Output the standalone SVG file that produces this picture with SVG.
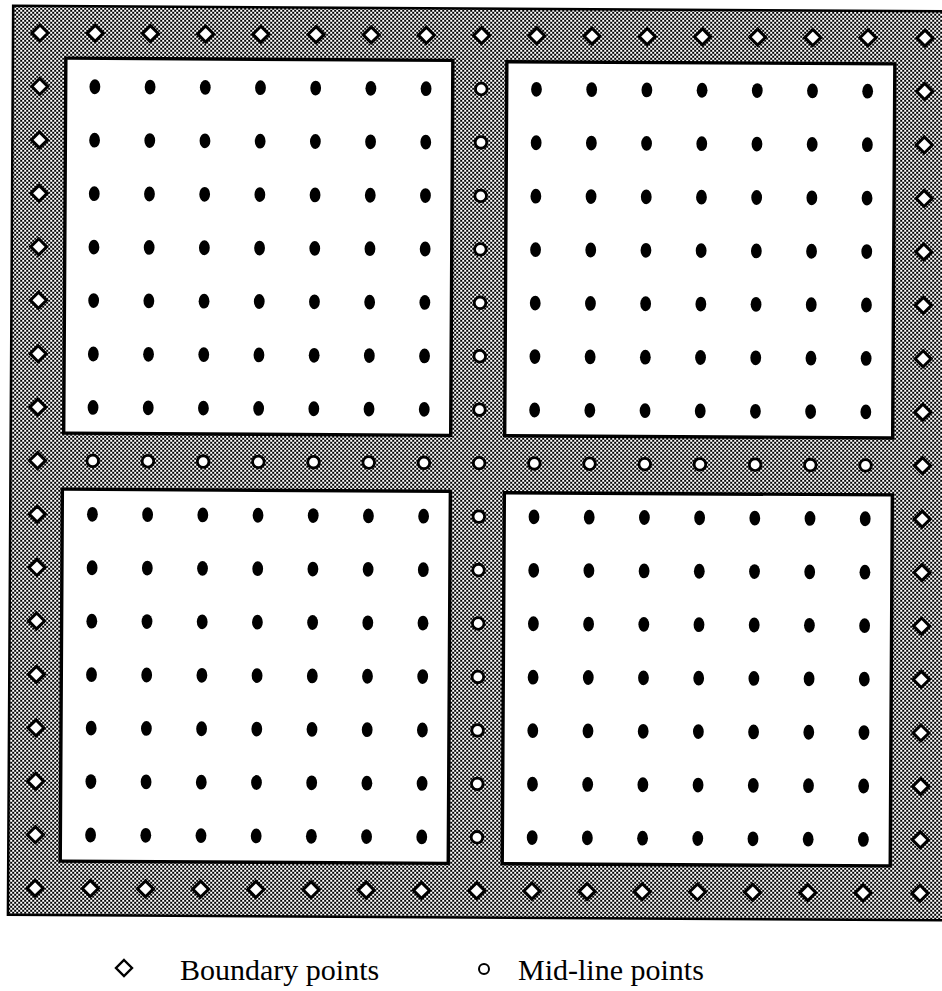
<svg xmlns="http://www.w3.org/2000/svg" xmlns:xlink="http://www.w3.org/1999/xlink" width="942" height="991" viewBox="0 0 942 991">
<style>
.bd{fill:#fff;stroke:#000;stroke-width:3}
.mc{fill:#fff;stroke:#000;stroke-width:2.8}
.dot{fill:#000}
.pan{fill:#fff;stroke:#000;stroke-width:3.4}
.frame{fill:url(#ht);stroke:#000;stroke-width:2.5}
.lbl{font-family:"Liberation Serif","Times New Roman",serif;font-size:30px;fill:#000}
</style>
<defs>
<pattern id="ht" width="4" height="4" patternUnits="userSpaceOnUse" patternTransform="rotate(-0.33)">
<rect width="4" height="4" fill="#fff"/>
<rect width="2" height="2" fill="#000"/>
<rect x="2" y="2" width="2" height="2" fill="#000"/>
</pattern>
<path id="d" class="bd" d="M0,-8 L8,0 L0,8 L-8,0Z"/>
<circle id="c" class="mc" r="5.8"/>
<ellipse id="p" class="dot" rx="5.4" ry="7.4"/>
<g id="row">
<use href="#p" x="0"/><use href="#p" x="55.2"/><use href="#p" x="110.4"/><use href="#p" x="165.6"/><use href="#p" x="220.8"/><use href="#p" x="276"/><use href="#p" x="331.2"/>
</g>
<g id="blk">
<use href="#row" y="0"/><use href="#row" y="53.45"/><use href="#row" y="106.9"/><use href="#row" y="160.35"/><use href="#row" y="213.8"/><use href="#row" y="267.25"/><use href="#row" y="320.7"/>
</g>
<g id="drow">
<use href="#d" x="0"/><use href="#d" x="55.2"/><use href="#d" x="110.4"/><use href="#d" x="165.6"/><use href="#d" x="220.8"/><use href="#d" x="276"/><use href="#d" x="331.2"/><use href="#d" x="386.4"/><use href="#d" x="441.6"/><use href="#d" x="496.8"/><use href="#d" x="552"/><use href="#d" x="607.2"/><use href="#d" x="662.4"/><use href="#d" x="717.6"/><use href="#d" x="772.8"/><use href="#d" x="828"/><use href="#d" x="885"/>
</g>
<g id="dcol">
<use href="#d" y="53.45"/><use href="#d" y="106.9"/><use href="#d" y="160.35"/><use href="#d" y="213.8"/><use href="#d" y="267.25"/><use href="#d" y="320.7"/><use href="#d" y="374.15"/><use href="#d" y="427.6"/><use href="#d" y="481.05"/><use href="#d" y="534.5"/><use href="#d" y="587.95"/><use href="#d" y="641.4"/><use href="#d" y="694.85"/><use href="#d" y="748.3"/><use href="#d" y="801.75"/>
</g>
<g id="ccol">
<use href="#c" y="53.45"/><use href="#c" y="106.9"/><use href="#c" y="160.35"/><use href="#c" y="213.8"/><use href="#c" y="267.25"/><use href="#c" y="320.7"/><use href="#c" y="374.15"/><use href="#c" y="427.6"/><use href="#c" y="481.05"/><use href="#c" y="534.5"/><use href="#c" y="587.95"/><use href="#c" y="641.4"/><use href="#c" y="694.85"/><use href="#c" y="748.3"/><use href="#c" y="801.75"/>
</g>
<g id="crow">
<use href="#c" x="55.2"/><use href="#c" x="110.4"/><use href="#c" x="165.6"/><use href="#c" x="220.8"/><use href="#c" x="276"/><use href="#c" x="331.2"/><use href="#c" x="386.4"/><use href="#c" x="496.8"/><use href="#c" x="552"/><use href="#c" x="607.2"/><use href="#c" x="662.4"/><use href="#c" x="717.6"/><use href="#c" x="772.8"/><use href="#c" x="828"/>
</g>
</defs>
<rect width="942" height="991" fill="#fff"/>
<g id="grid" transform="rotate(0.33 40 33)">
<rect id="frame" class="frame" x="13" y="6" width="980" height="909"/>
<g id="panels">
<rect id="panel-tl" class="pan" x="66" y="58" width="387" height="375"/>
<rect id="panel-tr" class="pan" x="507" y="59" width="388" height="374"/>
<rect id="panel-bl" class="pan" x="65" y="489" width="388" height="372"/>
<rect id="panel-br" class="pan" x="507" y="490" width="388" height="371"/>
</g>
<g id="interior-points">
<use href="#blk" x="95.2" y="86.45"/>
<use href="#blk" x="536.8" y="86.45"/>
<use href="#blk" x="95.2" y="514"/>
<use href="#blk" x="536.8" y="514"/>
</g>
<g id="boundary-points">
<use href="#drow" x="40" y="33"/>
<use href="#drow" x="40" y="888.2"/>
<use href="#dcol" x="40" y="33"/>
<use href="#dcol" x="925" y="33"/>
</g>
<g id="midline-points">
<use href="#ccol" x="481.6" y="33"/>
<use href="#crow" x="40" y="460.6"/>
</g>
</g>
<g id="legend">
<g id="legend-boundary">
<path class="bd" d="M124,960 L132,968 L124,976 L116,968Z" style="stroke-width:2.4"/>
<text class="lbl" x="180" y="980">Boundary points</text>
</g>
<g id="legend-midline">
<circle class="mc" cx="484" cy="969" r="5" style="stroke-width:2"/>
<text class="lbl" x="518" y="980">Mid-line points</text>
</g>
</g>
</svg>
